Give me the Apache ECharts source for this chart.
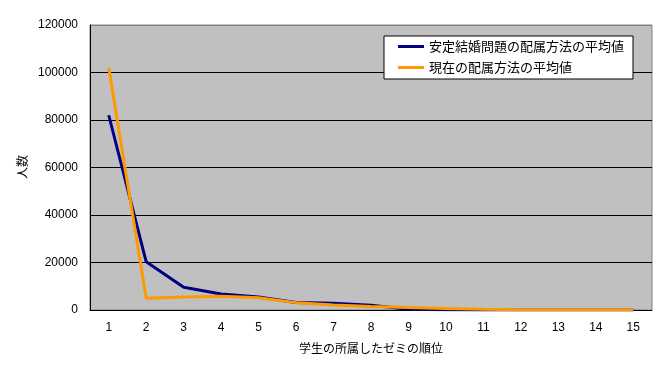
<!DOCTYPE html>
<html>
<head>
<meta charset="utf-8">
<script src="https://cdn.jsdelivr.net/npm/echarts@6/dist/echarts.min.js"></script>
<style>html,body{margin:0;padding:0;background:#fff;}#c{width:661px;height:372px;}</style>
</head>
<body>
<div id="c"></div>
<script>
var categories = ['1','2','3','4','5','6','7','8','9','10','11','12','13','14','15'];
var stableName = '安定結婚問題の配属方法の平均値';
var currentName = '現在の配属方法の平均値';
var stableValues = [82000, 20300, 9600, 6700, 5500, 3200, 2800, 2000, 300, 100, 50, 0, 0, 0, 0];
var currentValues = [102000, 4900, 5500, 5800, 5200, 3100, 2100, 1500, 1100, 600, 300, 100, 100, 100, 100];
var yTicks = {min: 0, max: 120000, interval: 20000};
var xAxisName = '学生の所属したゼミの順位';
var yAxisName = '人数';

var numFont = 'Liberation Sans, Arial, sans-serif';
var jpFont = 'Noto Sans CJK JP, sans-serif';
var chart = echarts.init(document.getElementById('c'));
chart.setOption({
  animation: false,
  backgroundColor: '#ffffff',
  grid: {left: 90, right: 9, top: 25, bottom: 62, show: true, backgroundColor: '#c0c0c0', borderColor: '#808080', borderWidth: 1},
  graphic: [{
    type: 'text', x: 22, y: 167, rotation: Math.PI / 2,
    style: {text: yAxisName, fontFamily: jpFont, fontSize: 12, fill: '#000', align: 'center', verticalAlign: 'middle'}
  }],
  legend: {
    orient: 'vertical', left: 384, top: 36,
    backgroundColor: '#ffffff', borderColor: '#000000', borderWidth: 1,
    padding: [4, 9, 5, 14], itemGap: 8, itemWidth: 26, itemHeight: 3, icon: 'rect',
    textStyle: {fontFamily: jpFont, fontSize: 13, color: '#000'},
    data: [stableName, currentName]
  },
  xAxis: {
    type: 'category', data: categories, boundaryGap: true,
    name: xAxisName, nameLocation: 'middle', nameGap: 32,
    nameTextStyle: {fontFamily: jpFont, fontSize: 12, color: '#000'},
    axisLine: {lineStyle: {color: '#000', width: 1}},
    axisTick: {inside: true, length: 3, lineStyle: {color: '#000'}},
    axisLabel: {margin: 12, fontFamily: numFont, fontSize: 12, color: '#000'}
  },
  yAxis: {
    type: 'value', min: yTicks.min, max: yTicks.max, interval: yTicks.interval,
    axisLine: {show: true, lineStyle: {color: '#000', width: 1}},
    axisTick: {show: false},
    axisLabel: {margin: 12, fontFamily: numFont, fontSize: 12, color: '#000', formatter: function (v) { return String(v); }},
    splitLine: {lineStyle: {color: ['#000','#000','#000','#000','#000','#000','#808080'], width: 1}}
  },
  series: [
    {name: stableName, type: 'line', data: stableValues, symbol: 'none', lineStyle: {color: '#000080', width: 3}, itemStyle: {color: '#000080'}},
    {name: currentName, type: 'line', data: currentValues, symbol: 'none', lineStyle: {color: '#ff9900', width: 3}, itemStyle: {color: '#ff9900'}}
  ]
});
</script>
</body>
</html>
